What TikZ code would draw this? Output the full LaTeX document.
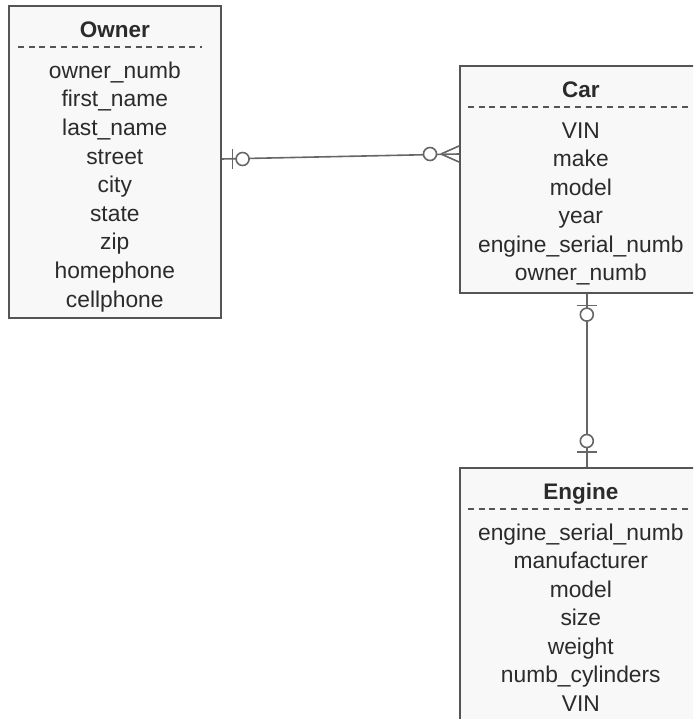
\documentclass[tikz,border=0pt]{standalone}
\usepackage{fontspec}
\setmainfont{Liberation Sans}
\usetikzlibrary{calc}

\definecolor{boxline}{HTML}{555555}
\definecolor{boxfill}{HTML}{F8F8F8}
\definecolor{inktext}{HTML}{2B2B2B}
\definecolor{linkline}{HTML}{666666}

\tikzset{
  entity/.style={draw=boxline, fill=boxfill, line width=1.6pt,
    rectangle, anchor=north west, inner sep=0pt},
  title/.style={anchor=base, text=inktext, inner sep=0pt,
    font=\fontsize{22.5}{27}\selectfont\bfseries},
  field/.style={anchor=base, text=inktext, inner sep=0pt,
    font=\fontsize{22.8}{27}\selectfont},
  sepline/.style={draw=boxline, line width=1.7pt, dash pattern=on 6pt off 4.7pt},
  link/.style={draw=linkline, line width=1.6pt},
  ring/.style={draw=linkline, line width=1.6pt, fill=white}
}

\begin{document}
\begin{tikzpicture}[x=1pt, y=-1pt]
        \useasboundingbox (0,0) rectangle (693,719);
        \clip (0,0) rectangle (693,719);

        % Owner
        \node[entity, minimum width=212pt, minimum height=312pt] (owner) at (8,5) {};
        \node[title] (owner-title) at ($(owner.north)+(0,32.7)$) {Owner};
        \draw[sepline] ($(owner.north west)+(10,41.7)$) -- ($(owner.north east)+(-20,41.7)$);
        \foreach \f [count=\i from 0] in {owner\_numb, first\_name, last\_name, street,
            city, state, zip, homephone, cellphone}
          \node[field] (owner-f\i) at ($(owner.north)+(0,73.3+28.6*\i)$) {\f};

        % Car
        \node[entity, minimum width=242pt, minimum height=227pt] (car) at (459,65) {};
        \node[title] (car-title) at ($(car.north)+(0,32.7)$) {Car};
        \draw[sepline] ($(car.north west)+(9,41.7)$) -- ($(car.north east)+(-10,41.7)$);
        \foreach \f [count=\i from 0] in {VIN, make, model, year,
            engine\_serial\_numb, owner\_numb}
          \node[field] (car-f\i) at ($(car.north)+(0,73.3+28.5*\i)$) {\f};

        % Engine
        \node[entity, minimum width=242pt, minimum height=280pt] (engine) at (459,467) {};
        \node[title] (engine-title) at ($(engine.north)+(0,32.7)$) {Engine};
        \draw[sepline] ($(engine.north west)+(9,41.7)$) -- ($(engine.north east)+(-10,41.7)$);
        \foreach \f [count=\i from 0] in {engine\_serial\_numb, manufacturer, model,
            size, weight, numb\_cylinders, VIN}
          \node[field] (engine-f\i) at ($(engine.north)+(0,73.3+28.5*\i)$) {\f};

        % Owner -- Car (one to many)
        \coordinate (oc-a) at ($(owner.north east)+(0,154)$);
        \coordinate (oc-b) at ($(car.north west)+(0,89)$);
        \draw[link] (oc-a) -- (oc-b);
        \draw[link] ($(oc-a)+(11,-10)$) -- ($(oc-a)+(11,10)$);
        \draw[ring] ($(oc-a)+(21,0)$) circle[radius=6.5];
        \draw[link] ($(oc-b)+(-18,0)$) -- ($(oc-b)+(0,-8)$);
        \draw[link] ($(oc-b)+(-18,0)$) -- ($(oc-b)+(0,8)$);
        \draw[ring] ($(oc-b)+(-29,0)$) circle[radius=6.5];

        % Car -- Engine (one to one)
        \coordinate (ce-a) at ($(car.south)+(6,0)$);
        \coordinate (ce-b) at ($(engine.north)+(6,0)$);
        \draw[link] (ce-a) -- (ce-b);
        \draw[link] ($(ce-a)+(-10,12)$) -- ($(ce-a)+(10,12)$);
        \draw[ring] ($(ce-a)+(0,21)$) circle[radius=6.5];
        \draw[ring] ($(ce-b)+(0,-26)$) circle[radius=6.5];
        \draw[link] ($(ce-b)+(-10,-15)$) -- ($(ce-b)+(10,-15)$);
    \end{tikzpicture}
\end{document}
